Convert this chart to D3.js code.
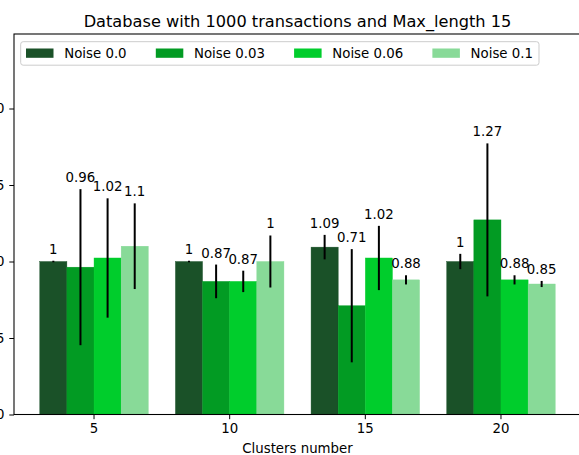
<!DOCTYPE html>
<html>
<head>
<meta charset="utf-8">
<script src="https://cdn.jsdelivr.net/npm/d3@7"></script>
<style>
    body { margin: 0; background: #fff; }
    svg { display: block; font-family: 'DejaVu Sans', sans-serif; }
    .tick text { font-size: 13.33px; font-family: 'DejaVu Sans', sans-serif; fill: #000; }
</style>
</head>
<body>
<svg id="chart" width="579" height="455"></svg>
<script>
'use strict';

//categories and series
var clusters = ['5', '10', '15', '20'];
var noiseLabels = ['Noise 0.0', 'Noise 0.03', 'Noise 0.06', 'Noise 0.1'];
var colors = ['#1a5128', '#029b23', '#00cd2c', '#88da98'];

//mean values per noise level (one value per cluster count)
var noise00 = [1, 1, 1.094, 1];
var noise003 = [0.963, 0.87, 0.711, 1.272];
var noise006 = [1.023, 0.87, 1.023, 0.88];
var noise01 = [1.1, 1, 0.88, 0.853];

//error (std) per noise level
var err00 = [0.005, 0.005, 0.08, 0.05];
var err003 = [0.51, 0.11, 0.37, 0.5];
var err006 = [0.39, 0.07, 0.21, 0.03];
var err01 = [0.28, 0.17, 0.03, 0.02];

var yTicks = [0, 0.5, 1, 1.5, 2];

var means = [noise00, noise003, noise006, noise01];
var errors = [err00, err003, err006, err01];

var svg = d3.select('#chart');

var plotLeft = 14, plotRight = 581, plotTop = 34, plotBottom = 414.5;

var x = d3.scaleBand()
    .domain(clusters)
    .range([plotLeft, plotRight])
    .paddingInner(0.2)
    .paddingOuter(0.19);

var xs = d3.scaleBand()
    .domain(noiseLabels)
    .range([0, x.bandwidth()]);

var y = d3.scaleLinear()
    .domain([0, 2.487])
    .range([plotBottom, plotTop]);

//flatten into one row per bar
var bars = [];
clusters.forEach(function (c, ci) {
    noiseLabels.forEach(function (n, ni) {
        bars.push({ cluster: c, noise: n, color: colors[ni], value: means[ni][ci], err: errors[ni][ci] });
    });
});

function barCenter(d) {
    return x(d.cluster) + xs(d.noise) + xs.bandwidth() / 2;
}

//bars (thin same-colour stroke hides antialias seams)
svg.append('g')
    .selectAll('rect')
    .data(bars)
    .enter().append('rect')
    .attr('x', function (d) { return x(d.cluster) + xs(d.noise); })
    .attr('y', function (d) { return y(d.value); })
    .attr('width', xs.bandwidth())
    .attr('height', function (d) { return y(0) - y(d.value); })
    .attr('fill', function (d) { return d.color; })
    .attr('stroke', function (d) { return d.color; })
    .attr('stroke-width', 0.4);

//error bars (no caps)
svg.append('g')
    .selectAll('line')
    .data(bars)
    .enter().append('line')
    .attr('x1', barCenter)
    .attr('x2', barCenter)
    .attr('y1', function (d) { return y(d.value - d.err); })
    .attr('y2', function (d) { return y(d.value + d.err); })
    .attr('stroke', '#000')
    .attr('stroke-width', 2);

//value labels above the error bars
svg.append('g')
    .selectAll('text')
    .data(bars)
    .enter().append('text')
    .attr('x', barCenter)
    .attr('y', function (d) { return y(d.value + d.err) - 7; })
    .attr('text-anchor', 'middle')
    .attr('font-size', '13.33px')
    .text(function (d) { return String(+d.value.toFixed(2)); });

//axes
var xAxis = svg.append('g')
    .attr('transform', 'translate(0,' + plotBottom + ')')
    .call(d3.axisBottom(x).tickSize(4.7).tickPadding(4));
xAxis.select('.domain').remove();

var yAxis = svg.append('g')
    .attr('transform', 'translate(' + plotLeft + ',0)')
    .call(d3.axisLeft(y).tickValues(yTicks).tickFormat(d3.format('.1f')).tickSize(4.7).tickPadding(4.7));
yAxis.select('.domain').remove();

//spines
svg.append('rect')
    .attr('x', plotLeft)
    .attr('y', plotTop)
    .attr('width', plotRight - plotLeft)
    .attr('height', plotBottom - plotTop)
    .attr('fill', 'none')
    .attr('stroke', '#000')
    .attr('stroke-width', 1.07);

//title and x label
svg.append('text')
    .attr('x', (plotLeft + plotRight) / 2)
    .attr('y', 26.5)
    .attr('text-anchor', 'middle')
    .attr('font-size', '16.2px')
    .text('Database with 1000 transactions and Max_length 15');

svg.append('text')
    .attr('x', (plotLeft + plotRight) / 2)
    .attr('y', 453)
    .attr('text-anchor', 'middle')
    .attr('font-size', '13.33px')
    .text('Clusters number');

//legend
var legendG = svg.append('g');
var legendBox = legendG.append('rect')
    .attr('x', 20.7)
    .attr('y', 41.7)
    .attr('height', 23.5)
    .attr('rx', 2.5)
    .attr('fill', '#fff')
    .attr('fill-opacity', 0.8)
    .attr('stroke', '#cccccc')
    .attr('stroke-width', 1);

var lx = 26;
var lastEnd = 0;
noiseLabels.forEach(function (n, i) {
    legendG.append('rect')
        .attr('x', lx)
        .attr('y', 48.5)
        .attr('width', 27.5)
        .attr('height', 9.3)
        .attr('fill', colors[i]);
    var t = legendG.append('text')
        .attr('x', lx + 27.5 + 10.7)
        .attr('y', 58)
        .attr('font-size', '13.33px')
        .text(n);
    lastEnd = lx + 27.5 + 10.7 + t.node().getComputedTextLength();
    lx = lastEnd + 29.2;
});
legendBox.attr('width', lastEnd + 6 - 20.7);
</script>
</body>
</html>
